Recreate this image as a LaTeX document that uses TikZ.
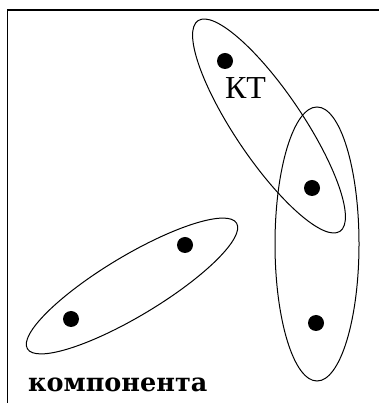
\documentclass[tikz,border=0pt]{standalone}
\usepackage{fontspec}
\setmainfont{Liberation Serif}
\newfontfamily\Gboldfont{DejaVu Serif}
\usetikzlibrary{shapes.geometric}

\tikzset{Gpt/.style={circle,fill=black,inner sep=0pt,minimum size=16pt},
         Gov/.style={ellipse,draw,line width=1pt,inner sep=0pt},
         Glab/.style={inner sep=0pt}}

\begin{document}
\begin{tikzpicture}[x=1pt,y=1pt]
    \useasboundingbox (0,0) rectangle (379,403);
    \draw[line width=1.8pt] (7.5,0) -- (7.5,393) -- (379,393);
    % ovals
    \node[Gov,minimum width=254pt,minimum height=68pt,rotate=-56] (ovKT) at (269,277) {};
    \node[Gov,minimum width=84pt,minimum height=274pt] (ovR) at (317,159) {};
    \node[Gov,minimum width=244pt,minimum height=60pt,rotate=31] (ovL) at (132,117) {};
    % points
    \foreach \i/\x/\y in {1/225/342,2/312/215,3/316/80,4/185/158,5/71/84} \node[Gpt] (p\i) at (\x,\y) {};
    \node[Glab,font=\fontsize{32}{32}\selectfont] (kt) at (245.5,315) {КТ};
    \node[Glab,font=\fontsize{25.5}{26}\selectfont\Gboldfont\bfseries,anchor=base west] (komp) at (28,11) {компонента};
  \end{tikzpicture}
\end{document}
